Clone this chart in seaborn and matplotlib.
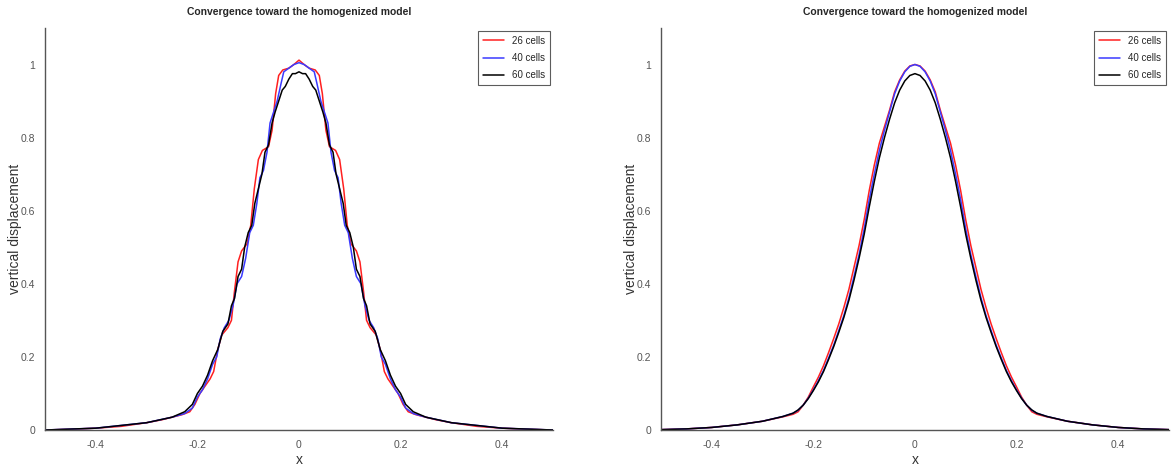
import numpy as np
import pandas as pd
import seaborn as sns
import matplotlib
matplotlib.use("Agg")
import matplotlib.pyplot as plt

# left panel: piecewise (cell-wise) solutions
red_x_left = [-0.5, -0.45, -0.4, -0.35, -0.3, -0.27, -0.25, -0.23, -0.215, -0.205, -0.195, -0.185, -0.175,
              -0.168, -0.16, -0.152, -0.14, -0.133, -0.127, -0.12, -0.113, -0.102, -0.095, -0.088, -0.08,
              -0.072, -0.06, -0.053, -0.046, -0.04, -0.032, -0.02, -0.01, 0.0,
              0.01, 0.02, 0.032, 0.04, 0.046, 0.053, 0.06, 0.072, 0.08, 0.088, 0.095, 0.102, 0.113, 0.12,
              0.127, 0.133, 0.14, 0.152, 0.16, 0.168, 0.175, 0.185, 0.195, 0.205, 0.215, 0.23, 0.25, 0.27,
              0.3, 0.35, 0.4, 0.45, 0.5]
red_y_left = [0.0, 0.002, 0.005, 0.01, 0.02, 0.028, 0.035, 0.042, 0.05, 0.07, 0.10, 0.12, 0.14,
              0.16, 0.22, 0.26, 0.28, 0.30, 0.38, 0.46, 0.49, 0.51, 0.56, 0.66, 0.74,
              0.765, 0.775, 0.82, 0.92, 0.97, 0.985, 0.99, 1.0, 1.012,
              1.0, 0.99, 0.985, 0.97, 0.92, 0.82, 0.775, 0.765, 0.74, 0.66, 0.56, 0.51, 0.49, 0.46,
              0.38, 0.30, 0.28, 0.26, 0.22, 0.16, 0.14, 0.12, 0.10, 0.07, 0.05, 0.042, 0.035, 0.028,
              0.02, 0.01, 0.005, 0.002, 0.0]

blue_x_left = [-0.5, -0.4, -0.3, -0.25, -0.225, -0.21, -0.2, -0.19, -0.18, -0.17, -0.162, -0.155, -0.147,
               -0.138, -0.13, -0.122, -0.113, -0.105, -0.097, -0.09, -0.083, -0.077, -0.07, -0.063,
               -0.057, -0.05, -0.043, -0.035, -0.03, -0.02, -0.01, 0.0,
               0.01, 0.02, 0.03, 0.035, 0.043, 0.05, 0.057, 0.063, 0.07, 0.077, 0.083, 0.09, 0.097,
               0.105, 0.113, 0.122, 0.13, 0.138, 0.147, 0.155, 0.162, 0.17, 0.18, 0.19, 0.2, 0.21,
               0.225, 0.25, 0.3, 0.4, 0.5]
blue_y_left = [0.0, 0.005, 0.02, 0.035, 0.045, 0.06, 0.09, 0.11, 0.14, 0.18, 0.20, 0.25, 0.28,
               0.30, 0.34, 0.40, 0.42, 0.47, 0.54, 0.56, 0.62, 0.69, 0.71, 0.76,
               0.84, 0.87, 0.90, 0.95, 0.98, 0.99, 1.0, 1.005,
               1.0, 0.99, 0.98, 0.95, 0.90, 0.87, 0.84, 0.76, 0.71, 0.69, 0.62, 0.56, 0.54,
               0.47, 0.42, 0.40, 0.34, 0.30, 0.28, 0.25, 0.20, 0.18, 0.14, 0.11, 0.09, 0.06,
               0.045, 0.035, 0.02, 0.005, 0.0]

black_x_left = [-0.5, -0.4, -0.3, -0.25, -0.225, -0.21, -0.2, -0.19, -0.18, -0.17, -0.16, -0.15, -0.14,
                -0.133, -0.127, -0.12, -0.113, -0.107, -0.1, -0.093, -0.087, -0.08, -0.073, -0.067,
                -0.06, -0.053, -0.047, -0.04, -0.033, -0.027, -0.02, -0.013, -0.007, 0.0,
                0.007, 0.013, 0.02, 0.027, 0.033, 0.04, 0.047, 0.053, 0.06, 0.067, 0.073, 0.08, 0.087,
                0.093, 0.1, 0.107, 0.113, 0.12, 0.127, 0.133, 0.14, 0.15, 0.16, 0.17, 0.18, 0.19,
                0.2, 0.21, 0.225, 0.25, 0.3, 0.4, 0.5]
black_y_left = [0.0, 0.005, 0.02, 0.035, 0.05, 0.07, 0.10, 0.12, 0.15, 0.19, 0.22, 0.27, 0.29,
                0.34, 0.36, 0.42, 0.44, 0.50, 0.54, 0.56, 0.62, 0.66, 0.70, 0.76,
                0.78, 0.84, 0.87, 0.90, 0.93, 0.94, 0.96, 0.975, 0.975, 0.98,
                0.975, 0.975, 0.96, 0.94, 0.93, 0.90, 0.87, 0.84, 0.78, 0.76, 0.70, 0.66, 0.62,
                0.56, 0.54, 0.50, 0.44, 0.42, 0.36, 0.34, 0.29, 0.27, 0.22, 0.19, 0.15, 0.12,
                0.10, 0.07, 0.05, 0.035, 0.02, 0.005, 0.0]

# right panel: homogenized solutions
x_right = [-0.5, -0.45, -0.4, -0.35, -0.3, -0.26, -0.24, -0.23, -0.22, -0.21, -0.2, -0.19, -0.18,
           -0.17, -0.16, -0.15, -0.14, -0.13, -0.12, -0.11, -0.1, -0.09, -0.08, -0.07, -0.06, -0.05,
           -0.04, -0.03, -0.02, -0.01, 0.0,
           0.01, 0.02, 0.03, 0.04, 0.05, 0.06, 0.07, 0.08, 0.09, 0.1, 0.11, 0.12, 0.13, 0.14, 0.15,
           0.16, 0.17, 0.18, 0.19, 0.2, 0.21, 0.22, 0.23, 0.24, 0.26, 0.3, 0.35, 0.4, 0.45, 0.5]
red_y_right = [0.001, 0.003, 0.007, 0.014, 0.024, 0.036, 0.043, 0.05, 0.068, 0.09, 0.118, 0.145, 0.176,
               0.212, 0.25, 0.29, 0.335, 0.385, 0.445, 0.505, 0.575, 0.655, 0.725, 0.785, 0.83, 0.875,
               0.925, 0.958, 0.982, 0.996, 1.0,
               0.996, 0.982, 0.958, 0.925, 0.875, 0.83, 0.785, 0.725, 0.655, 0.575, 0.505, 0.445, 0.385, 0.335, 0.29,
               0.25, 0.212, 0.176, 0.145, 0.118, 0.09, 0.068, 0.05, 0.043, 0.036, 0.024, 0.014, 0.007, 0.003, 0.001]
blue_y_right = [0.001, 0.003, 0.007, 0.014, 0.024, 0.037, 0.046, 0.054, 0.068, 0.087, 0.11, 0.135, 0.163,
                0.197, 0.232, 0.272, 0.313, 0.362, 0.42, 0.48, 0.55, 0.63, 0.70, 0.765, 0.82, 0.87,
                0.92, 0.955, 0.98, 0.995, 1.0,
                0.995, 0.98, 0.955, 0.92, 0.87, 0.82, 0.765, 0.70, 0.63, 0.55, 0.48, 0.42, 0.362, 0.313, 0.272,
                0.232, 0.197, 0.163, 0.135, 0.11, 0.087, 0.068, 0.054, 0.046, 0.037, 0.024, 0.014, 0.007, 0.003, 0.001]
black_y_right = [0.001, 0.003, 0.007, 0.014, 0.024, 0.037, 0.046, 0.055, 0.068, 0.086, 0.108, 0.132, 0.16,
                 0.193, 0.228, 0.267, 0.308, 0.355, 0.41, 0.47, 0.535, 0.61, 0.68, 0.745, 0.80, 0.85,
                 0.895, 0.93, 0.955, 0.97, 0.975,
                 0.97, 0.955, 0.93, 0.895, 0.85, 0.80, 0.745, 0.68, 0.61, 0.535, 0.47, 0.41, 0.355, 0.308, 0.267,
                 0.228, 0.193, 0.16, 0.132, 0.108, 0.086, 0.068, 0.055, 0.046, 0.037, 0.024, 0.014, 0.007, 0.003, 0.001]

labels = ["26 cells", "40 cells", "60 cells"]
colors = {"26 cells": "#ff2020", "40 cells": "#3a3aff", "60 cells": "#000000"}
title = "Convergence toward the homogenized model"


def make_frame(xs, ys):
    parts = []
    for lab, x, y in zip(labels, xs, ys):
        parts.append(pd.DataFrame({"x": x, "y": y, "series": lab}))
    return pd.concat(parts, ignore_index=True)


left_df = make_frame([red_x_left, blue_x_left, black_x_left], [red_y_left, blue_y_left, black_y_left])
right_df = make_frame([x_right, x_right, x_right], [red_y_right, blue_y_right, black_y_right])

sns.set_style("white")
plt.rcParams['font.family'] = ['Liberation Sans', 'DejaVu Sans']

fig = plt.figure(figsize=(11.73, 4.73), dpi=100)
ax1 = fig.add_axes([0.0384, 0.0909, 0.433, 0.85])
ax2 = fig.add_axes([0.5635, 0.0909, 0.433, 0.85])

for ax, df in [(ax1, left_df), (ax2, right_df)]:
    sns.lineplot(data=df, x="x", y="y", hue="series", palette=colors, estimator=None,
                 sort=False, linewidth=1.1, ax=ax)
    ax.set_xlim(-0.5, 0.5)
    ax.set_ylim(0, 1.1)
    ax.set_xticks([-0.4, -0.2, 0, 0.2, 0.4])
    ax.set_xticklabels(["-0.4", "-0.2", "0", "0.2", "0.4"])
    ax.set_yticks([0, 0.2, 0.4, 0.6, 0.8, 1])
    ax.set_yticklabels(["0", "0.2", "0.4", "0.6", "0.8", "1"])
    ax.tick_params(direction="in", length=4, width=0.8, colors="#555555", labelsize=7.5, pad=7)
    for side in ["top", "right"]:
        ax.spines[side].set_visible(False)
    for side in ["left", "bottom"]:
        ax.spines[side].set_color("#555555")
        ax.spines[side].set_linewidth(1.0)
    ax.set_xlabel("x", fontsize=10, color="#333333", labelpad=2)
    ax.set_ylabel("vertical displacement", fontsize=10, color="#333333")
    ax.yaxis.set_label_coords(-0.046, 0.5)
    ax.set_title(title, fontsize=7.5, fontweight="bold", pad=9)
    leg = ax.legend(loc="upper right", fontsize=7, frameon=True, fancybox=False,
                    handlelength=2.2, borderpad=0.5, labelspacing=0.75, borderaxespad=0.3)
    leg.get_frame().set_edgecolor("#333333")
    leg.get_frame().set_linewidth(0.8)

fig.savefig("out.png", dpi=100)
